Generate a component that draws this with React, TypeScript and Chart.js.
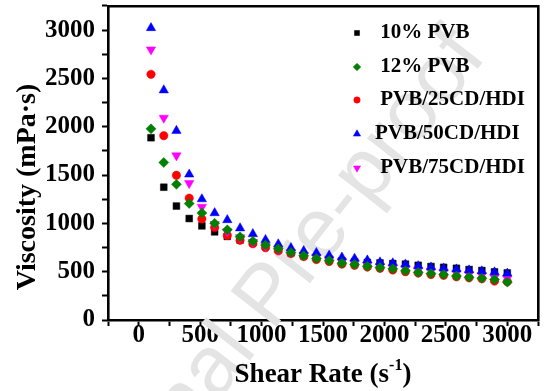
import React, { useEffect, useRef } from 'react';
import { Chart, registerables } from 'chart.js';
import { drawPoint } from 'chart.js/helpers';

Chart.register(...registerables);

// Shear rate (s^-1)
const shearRate = [100, 204, 307, 411, 514, 618, 721, 825, 929, 1032, 1136, 1239, 1343, 1446, 1550, 1654, 1757, 1861, 1964, 2068, 2171, 2275, 2379, 2482, 2586, 2689, 2793, 2896, 3000];
// Viscosity (mPa·s)
const pvb10 = [1886, 1374, 1179, 1050, 974, 912, 865, 828, 800, 765, 730, 695, 665, 645, 628, 612, 602, 596, 590, 584, 578, 566, 553, 545, 535, 522, 512, 498, 487];
const pvb12 = [1978, 1630, 1404, 1205, 1107, 1000, 933, 861, 815, 775, 738, 698, 666, 636, 615, 588, 574, 556, 543, 530, 510, 492, 480, 470, 455, 442, 432, 420, 392];
const cd25 = [2542, 1907, 1497, 1261, 1046, 958, 875, 825, 789, 748, 715, 687, 656, 625, 605, 578, 566, 548, 535, 518, 500, 486, 470, 462, 447, 437, 427, 402, 396];
const cd50 = [3022, 2378, 1958, 1507, 1251, 1107, 1035, 950, 890, 830, 785, 745, 715, 695, 668, 648, 636, 618, 598, 588, 576, 558, 545, 535, 525, 515, 505, 495, 482];
const cd75 = [2798, 2091, 1702, 1415, 1169, 990, 915, 855, 805, 765, 730, 700, 670, 650, 630, 608, 590, 572, 558, 545, 533, 520, 508, 498, 488, 475, 463, 441, 431];

const seriesNames = [' 10% PVB', ' 12% PVB', ' PVB/25CD/HDI', 'PVB/50CD/HDI', ' PVB/75CD/HDI'];
// tick positions (every 250), labelled every 500
const xTickValues = [-250, 0, 250, 500, 750, 1000, 1250, 1500, 1750, 2000, 2250, 2500, 2750, 3000, 3250];
const yTickValues = [0, 250, 500, 750, 1000, 1250, 1500, 1750, 2000, 2250, 2500, 2750, 3000, 3250];

const SERIF = "'Liberation Serif', 'Times New Roman', serif";

const styles = [
  { data: pvb10, color: '#000000', pointStyle: 'rect', radius: 4.8, rotation: 0, order: 4, lr: 3.6 },
  { data: pvb12, color: '#008000', pointStyle: 'rectRot', radius: 5, rotation: 0, order: 0, lr: 3.8 },
  { data: cd25, color: '#ff0000', pointStyle: 'circle', radius: 4.2, rotation: 0, order: 3, lr: 3.2 },
  { data: cd50, color: '#0000ff', pointStyle: 'triangle', radius: 5.4, rotation: 0, order: 1, lr: 4.2 },
  { data: cd75, color: '#ff00ff', pointStyle: 'triangle', radius: 5.4, rotation: 180, order: 2, lr: 4.2 },
];

const zeroPadding = (scale: any) => {
  scale.paddingTop = 0;
  scale.paddingBottom = 0;
  scale.paddingLeft = 0;
  scale.paddingRight = 0;
};

const label500 = (v: any) => {
  const n = Number(v);
  return n >= 0 && n <= 3000 && n % 500 === 0 ? `${n}` : '';
};

const watermark = {
  id: 'watermark',
  beforeDatasetsDraw(chart: any) {
    const ctx = chart.ctx;
    ctx.save();
    ctx.translate(272, 332);
    ctx.rotate((-52 * Math.PI) / 180);
    ctx.font = "84px 'Liberation Sans', Arial, sans-serif";
    ctx.fillStyle = '#e4e4e4';
    ctx.textBaseline = 'alphabetic';
    ctx.textAlign = 'left';
    ctx.fillText('Pre-proof', 0, 0);
    ctx.textAlign = 'right';
    ctx.fillText('Journal ', 0, 0);
    ctx.restore();
  },
};

const texts = {
  id: 'texts',
  afterDraw(chart: any) {
    const ctx = chart.ctx;
    const a = chart.chartArea;
    ctx.save();
    ctx.fillStyle = '#000';
    const mainFont = `bold 27px ${SERIF}`;
    const supFont = `bold 16px ${SERIF}`;
    ctx.font = mainFont;
    const t1 = 'Shear Rate (s';
    const t3 = ')';
    const w1 = ctx.measureText(t1).width;
    const w3 = ctx.measureText(t3).width;
    ctx.font = supFont;
    const t2 = '-1';
    const w2 = ctx.measureText(t2).width;
    let sx = (a.left + a.right) / 2 - (w1 + w2 + w3) / 2;
    const by = 382;
    ctx.textAlign = 'left';
    ctx.textBaseline = 'alphabetic';
    ctx.font = mainFont;
    ctx.fillText(t1, sx, by);
    sx += w1;
    ctx.font = supFont;
    ctx.fillText(t2, sx, by - 12);
    sx += w2;
    ctx.font = mainFont;
    ctx.fillText(t3, sx, by);

    ctx.save();
    ctx.translate(28, 187);
    ctx.rotate(-Math.PI / 2);
    ctx.font = `bold 28px ${SERIF}`;
    ctx.textAlign = 'center';
    ctx.textBaseline = 'middle';
    ctx.fillText('Viscosity (mPa·s)', 0, 0);
    ctx.restore();

    const rows = [33, 67, 100, 134, 168];
    ctx.font = `bold 21px ${SERIF}`;
    ctx.textAlign = 'left';
    ctx.textBaseline = 'middle';
    styles.forEach((s, i) => {
      ctx.fillStyle = s.color;
      ctx.strokeStyle = s.color;
      ctx.lineWidth = 0.5;
      drawPoint(ctx, { pointStyle: s.pointStyle as any, rotation: s.rotation, radius: s.lr, borderWidth: 0.5 }, 357, rows[i]);
      ctx.fillStyle = '#000';
      ctx.fillText(seriesNames[i], 375, rows[i]);
    });
    ctx.restore();
  },
};

export default function App() {
  const ref = useRef<HTMLCanvasElement>(null);
  useEffect(() => {
    document.body.style.margin = '0';
    const canvas = ref.current!;
    const datasets = styles.map((s, i) => ({
      label: seriesNames[i],
      data: s.data.map((v, j) => ({ x: shearRate[j], y: v })),
      showLine: false,
      pointStyle: s.pointStyle,
      pointRadius: s.radius,
      pointRotation: s.rotation,
      pointBackgroundColor: s.color,
      pointBorderColor: s.color,
      pointBorderWidth: 0.5,
      backgroundColor: s.color,
      borderColor: s.color,
      order: s.order,
    }));
    const frameBorder = { display: true, color: '#000', width: 2.6 };
    const chart = new Chart(canvas, {
      type: 'scatter',
      data: { datasets: datasets as any },
      options: {
        responsive: false,
        animation: false,
        devicePixelRatio: 1,
        layout: { padding: { top: 4, right: 16, left: 0, bottom: 0 } },
        plugins: { legend: { display: false }, tooltip: { enabled: false } },
        scales: {
          x: {
            type: 'linear',
            position: 'bottom',
            min: -250,
            max: 3250,
            grid: { display: true, drawOnChartArea: false, drawTicks: true, tickLength: 6, tickWidth: 2, tickColor: '#000' },
            border: frameBorder,
            afterBuildTicks: (scale: any) => {
              scale.ticks = xTickValues.map((v) => ({ value: v }));
            },
            afterFit: (scale: any) => {
              scale.height = 71;
              zeroPadding(scale);
            },
            ticks: {
              autoSkip: false,
              maxRotation: 0,
              padding: -5,
              color: '#000',
              font: { family: SERIF, size: 25, weight: 'bold' },
              callback: label500,
            },
          },
          y: {
            type: 'linear',
            position: 'left',
            min: 0,
            max: 3250,
            grid: { display: true, drawOnChartArea: false, drawTicks: true, tickLength: 6, tickWidth: 2, tickColor: '#000' },
            border: frameBorder,
            afterBuildTicks: (scale: any) => {
              scale.ticks = yTickValues.map((v) => ({ value: v }));
            },
            afterFit: (scale: any) => {
              scale.width = 108;
              zeroPadding(scale);
            },
            ticks: {
              autoSkip: false,
              padding: 7,
              color: '#000',
              font: { family: SERIF, size: 25, weight: 'bold' },
              callback: label500,
            },
          },
          xTop: {
            type: 'linear',
            position: 'top',
            min: -250,
            max: 3250,
            grid: { display: false },
            ticks: { display: false },
            border: frameBorder,
            afterFit: (scale: any) => {
              scale.height = 0;
              zeroPadding(scale);
            },
          },
          yRight: {
            type: 'linear',
            position: 'right',
            min: 0,
            max: 3250,
            grid: { display: false },
            ticks: { display: false },
            border: frameBorder,
            afterFit: (scale: any) => {
              scale.width = 0;
              zeroPadding(scale);
            },
          },
        },
      },
      plugins: [watermark, texts],
    });
    return () => chart.destroy();
  }, []);
  return <canvas ref={ref} width={554} height={391} style={{ display: 'block', width: 554, height: 391 }} />;
}
